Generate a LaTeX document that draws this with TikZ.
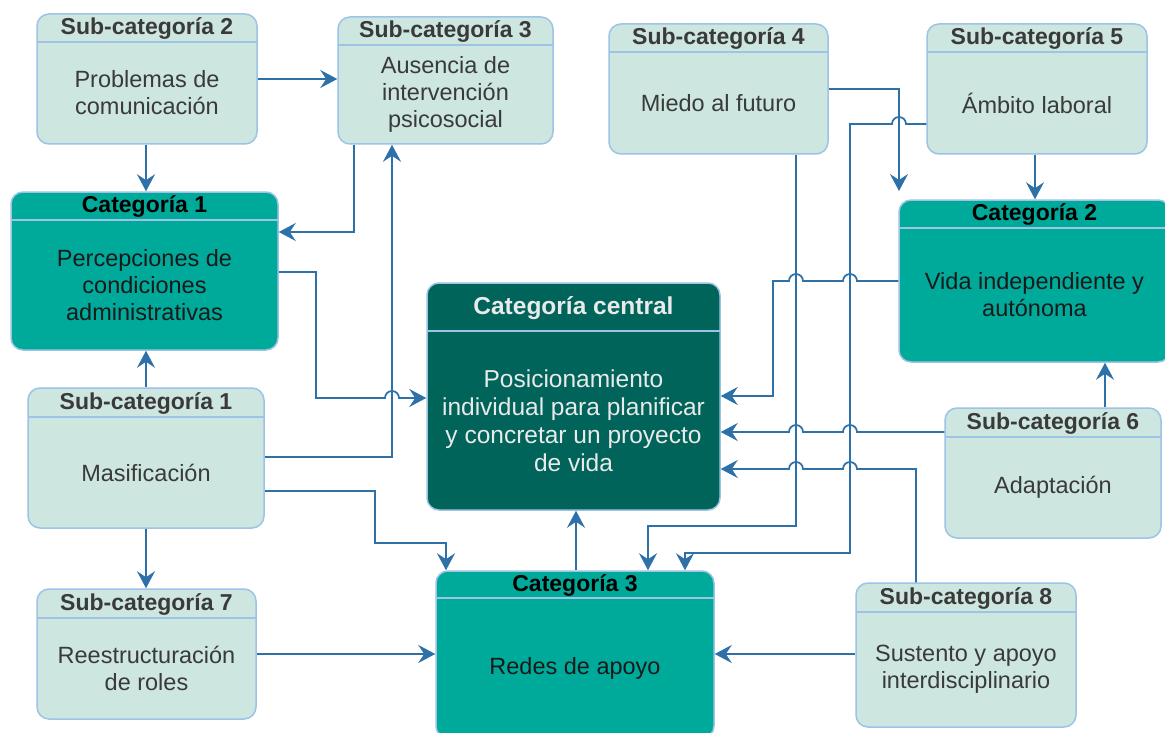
\documentclass[tikz,border=0pt]{standalone}
\usepackage{fontspec}
\setmainfont{Liberation Sans}
\usetikzlibrary{arrows.meta}
\definecolor{subfill}{HTML}{CDE6DF}
\definecolor{subline}{HTML}{9DC3E6}
\definecolor{catfill}{HTML}{00AA9A}
\definecolor{cenfill}{HTML}{00645A}
\definecolor{arrowc}{HTML}{2E70A8}
\definecolor{subtext}{HTML}{3A3A3A}
\definecolor{centext}{HTML}{EAEAEA}
\newcommand{\mkbox}[9]{%
  \node[#2box, minimum width={#5-#3}, minimum height={#6-#4}] (#1) at ({(#3+#5)/2},{(#4+#6)/2}) {};
  \draw[hdr] (#3,#7) -- (#5,#7);
  \node[#2ttl] at ({(#3+#5)/2},{(#4+#7)/2+1}) {#8};
  \node[#2body] at ({(#3+#5)/2},{(#7+#6)/2}) {#9};
}
\begin{document}
\begin{tikzpicture}[x=1pt,y=-1pt,
  box/.style={draw=subline, line width=1.5pt, rounded corners=12pt, inner sep=0pt},
  subbox/.style={box, fill=subfill},
  catbox/.style={box, fill=catfill},
  cenbox/.style={box, fill=cenfill},
  hdr/.style={draw=subline, line width=1.5pt},
  ttl/.style={font=\bfseries\fontsize{23}{26}\selectfont, inner sep=0pt},
  body/.style={font=\fontsize{23.5}{27}\selectfont, align=center, inner sep=0pt},
  subttl/.style={ttl, text=subtext},
  subbody/.style={body, text=subtext},
  catttl/.style={ttl, text=black},
  catbody/.style={body, text=black!90},
  centtl/.style={ttl, text=centext, font=\bfseries\fontsize{24.5}{27}\selectfont},
  cenbody/.style={body, text=centext, font=\fontsize{24.5}{28}\selectfont},
  conn/.style={draw=arrowc, line width=1.7pt, -{Stealth[length=17pt,width=18pt,inset=6pt]}},
]
\useasboundingbox (0,0) rectangle (1165,733);
\clip (0,0) rectangle (1165,733);
\fill[white] (0,0) rectangle (1165,733);

\mkbox{S2}{sub}{37}{14}{257}{144}{42}{Sub-categoría 2}{Problemas de\\comunicación}
\mkbox{S3}{sub}{338}{17}{553}{144}{45}{Sub-categoría 3}{Ausencia de\\intervención\\psicosocial}
\mkbox{S4}{sub}{609}{24}{828}{154}{52}{Sub-categoría 4}{Miedo al futuro}
\mkbox{S5}{sub}{927}{24}{1147}{154}{52}{Sub-categoría 5}{Ámbito laboral}
\mkbox{C1}{cat}{11}{192}{278}{350}{220}{Categoría 1}{Percepciones de\\condiciones\\administrativas}
\mkbox{C2}{cat}{899}{200}{1170}{362}{228}{Categoría 2}{Vida independiente y\\autónoma}
\mkbox{Cc}{cen}{427}{283}{720}{510}{331}{Categoría central}{Posicionamiento\\individual para planificar\\y concretar un proyecto\\de vida}
\mkbox{S1}{sub}{28}{388}{264}{528}{417}{Sub-categoría 1}{Masificación}
\mkbox{S6}{sub}{945}{408}{1161}{538}{437}{Sub-categoría 6}{Adaptación}
\mkbox{S7}{sub}{37}{589}{256}{719}{618}{Sub-categoría 7}{Reestructuración\\de roles}
\mkbox{C3}{cat}{436}{571}{714}{738}{598}{Categoría 3}{Redes de apoyo}
\mkbox{S8}{sub}{856}{583}{1076}{727}{612}{Sub-categoría 8}{Sustento y apoyo\\interdisciplinario}

\coordinate (c2in) at (899,191);

\draw[conn] (S2.east |- 0,79) -- (S3.west |- 0,79);
\draw[conn] (S2.south -| 146,0) -- (C1.north -| 146,0);
\draw[conn] (S3.south -| 354,0) -- (354,232) -- (C1.east |- 0,232);
\draw[conn] (C1.east |- 0,272) -- (316,272) -- (316,398) -- (385,398)
  arc[start angle=180, end angle=360, radius=7] -- (Cc.west |- 0,398);
\draw[conn] (S1.east |- 0,457) -- (392,457) -- (S3.south -| 392,0);
\draw[conn] (S1.east |- 0,491) -- (375,491) -- (375,543) -- (446,543) -- (C3.north -| 446,0);
\draw[conn] (S1.north -| 146,0) -- (C1.south -| 146,0);
\draw[conn] (S1.south -| 146,0) -- (S7.north -| 146,0);
\draw[conn] (S7.east |- 0,654) -- (C3.west |- 0,654);
\draw[conn] (C3.north -| 576,0) -- (Cc.south -| 576,0);
\draw[conn] (S8.west |- 0,654) -- (C3.east |- 0,654);
\draw[conn] (S4.east |- 0,89) -- (899,89) -- (c2in);
\draw[conn] (S5.west |- 0,124) -- (906,124) arc[start angle=0, end angle=-180, radius=7]
  -- (850,124) -- (850,553) -- (685,553) -- (C3.north -| 685,0);
\draw[conn] (S4.south -| 796,0) -- (796,526) -- (648,526) -- (C3.north -| 648,0);
\draw[conn] (C2.west |- 0,281) -- (857,281) arc[start angle=0, end angle=-180, radius=7]
  -- (803,281) arc[start angle=0, end angle=-180, radius=7] -- (773,281) -- (773,396) -- (Cc.east |- 0,396);
\draw[conn] (S6.west |- 0,432) -- (857,432) arc[start angle=0, end angle=-180, radius=7]
  -- (803,432) arc[start angle=0, end angle=-180, radius=7] -- (Cc.east |- 0,432);
\draw[conn] (S8.north -| 916,0) -- (916,469) -- (857,469) arc[start angle=0, end angle=-180, radius=7]
  -- (803,469) arc[start angle=0, end angle=-180, radius=7] -- (Cc.east |- 0,469);
\draw[conn] (S6.north -| 1105,0) -- (C2.south -| 1105,0);
\draw[conn] (S5.south -| 1035,0) -- (C2.north -| 1035,0);
\end{tikzpicture}
\end{document}
